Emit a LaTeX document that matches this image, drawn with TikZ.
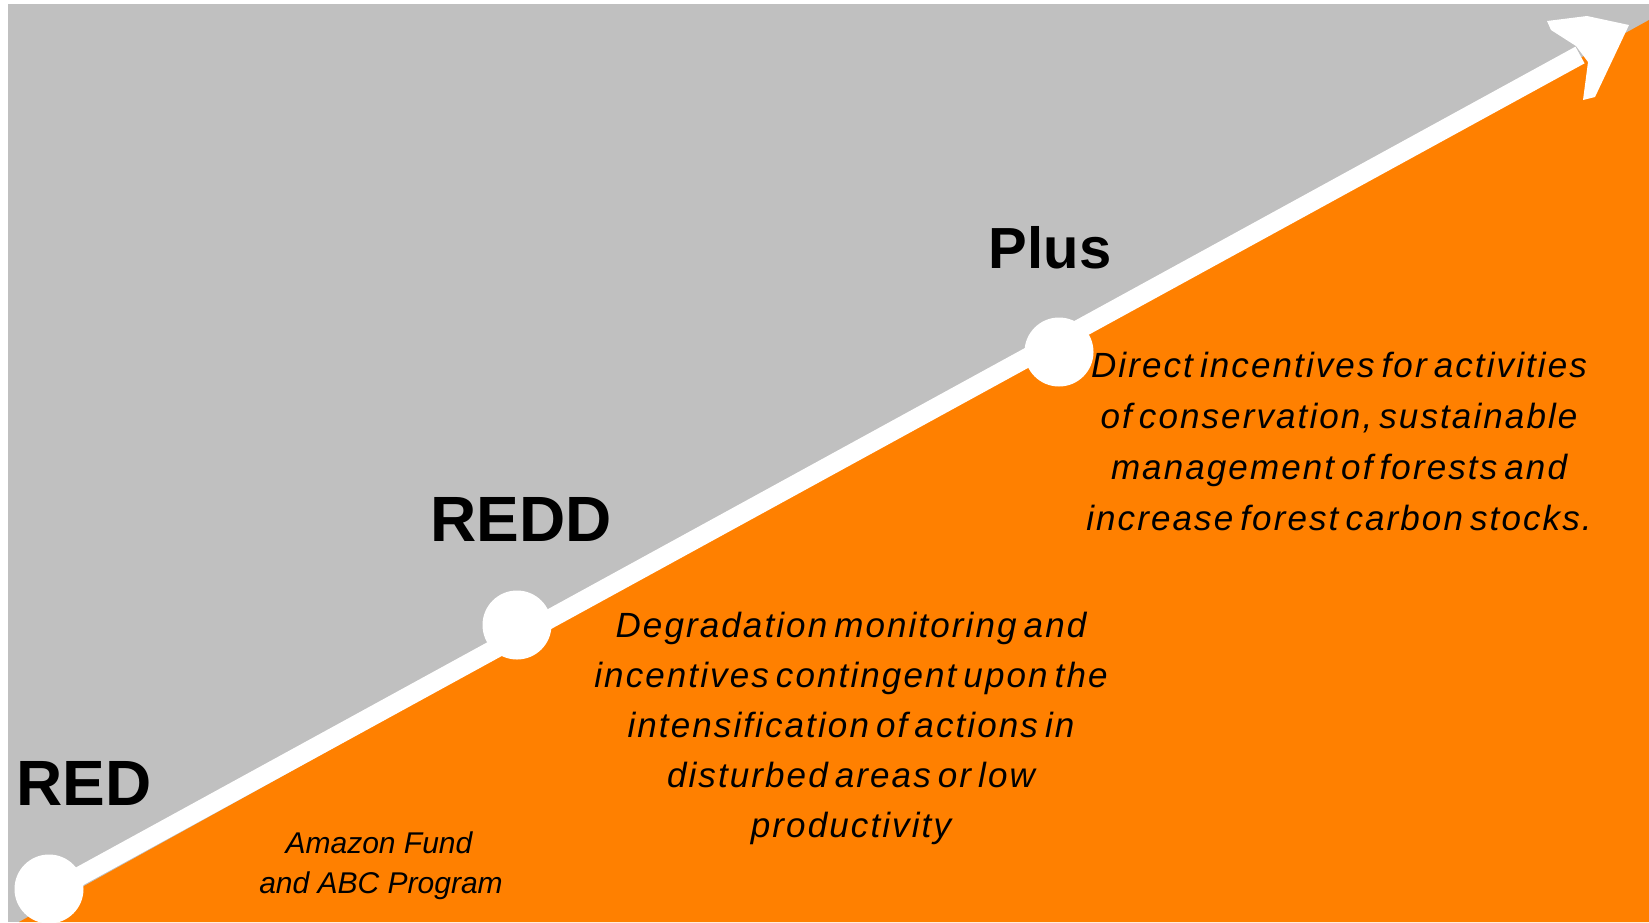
\documentclass[tikz,border=0pt]{standalone}
\usepackage{fontspec}
\setmainfont{Liberation Sans}
\newfontfamily\descfont{Liberation Sans}[LetterSpace=6,WordSpace=0.6]
\definecolor{bggray}{RGB}{192,192,192}
\definecolor{orng}{RGB}{255,128,0}
\tikzset{
  dot/.style={circle, fill=white, minimum size=69pt, inner sep=0pt},
  stage/.style={anchor=base, inner sep=0pt, font=\bfseries\fontsize{64}{70}\selectfont},
  desc/.style={anchor=base, inner sep=0pt, font=\descfont\itshape\fontsize{35}{40}\selectfont},
  small/.style={anchor=base, inner sep=0pt, font=\itshape\fontsize{30}{36}\selectfont},
}
\begin{document}
\begin{tikzpicture}[x=1pt,y=-1pt]
\useasboundingbox (0,0) rectangle (1649,922);
\fill[white] (0,0) rectangle (1649,922);
\fill[bggray] (8,4) rectangle (1649,922);
\fill[orng] (19,922) -- (1649,20) -- (1649,922) -- cycle;
% arrow
\coordinate (start) at (49,893);
\coordinate (lineend) at (1580,55);
\coordinate (tip) at (1629,25);
\draw[white, line width=19pt] (start) -- (lineend);
\fill[white] (tip) -- (1587,16) -- (1547,21) -- (1551,30) -- (1576,46) -- (1588,62) -- (1583,100) -- (1595,97) -- cycle;
% milestones
\node[dot] (red) at (49,889) {};
\node[dot] (redd) at (517,625) {};
\node[dot] (plus) at (1059,352) {};
% labels
\node[stage] (tred) at (84,805) {RED};
\node[stage] (tredd) at (521,541) {REDD};
\node[stage, font=\bfseries\fontsize{58}{64}\selectfont] (tplus) at (1050,268) {Plus};
% descriptions
\foreach \t [count=\i] in {Degradation monitoring and, incentives contingent upon the, intensification of actions in, disturbed areas or low, productivity}
  \node[desc] (da\i) at (851, {637+50.2*(\i-1)}) {\t};
\foreach \t [count=\i] in {Direct incentives for activities, {of conservation, sustainable}, management of forests and, increase forest carbon stocks.}
  \node[desc] (db\i) at (1339, {377+51*(\i-1)}) {\t};
\node[small] (am1) at (379,853) {Amazon Fund};
\node[small] (am2) at (381,893) {and ABC Program};
\end{tikzpicture}
\end{document}
